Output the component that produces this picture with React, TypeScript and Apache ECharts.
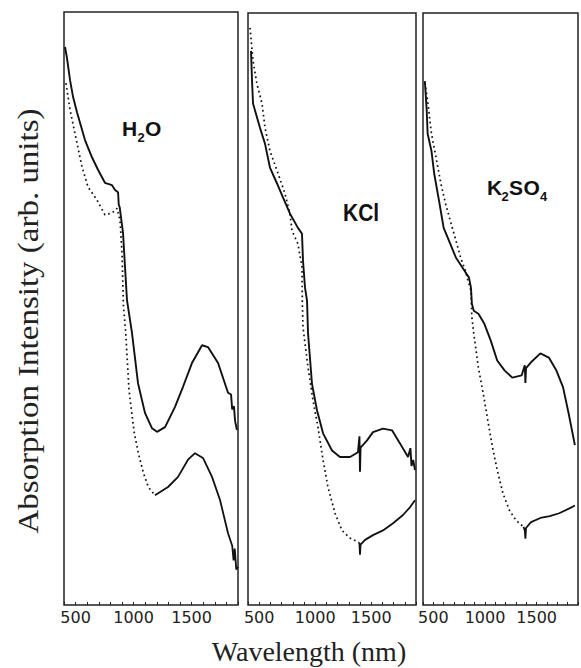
import React, { useEffect, useRef } from "react";
import * as echarts from "echarts";

// ---- data (wavelength nm, absorption arb. units) ----
const panelNames = ["H2O", "KCl", "K2SO4"];
const tickLabels = [500, 1000, 1500];
const xMin = 400;
const xMax = 1900;

const h2oSolid = [
  [409, 94.1], [426, 92.2], [452, 88.5], [478, 85.7], [512, 83.1], [581, 78.4], [641, 75.5],
  [693, 73.4], [753, 71.2], [814, 70.8], [840, 70.0], [866, 69.6], [872, 67.5], [880, 67.1],
  [909, 62.7], [926, 57.0], [943, 51.4], [986, 45.9], [1038, 37.4], [1098, 32.4], [1159, 29.8],
  [1202, 29.2], [1271, 30.0], [1357, 33.4], [1426, 36.8], [1503, 40.8], [1590, 43.8],
  [1641, 43.5], [1728, 40.8], [1814, 35.8], [1840, 35.5], [1850, 33.0], [1865, 33.5],
  [1875, 31.0], [1891, 29.5],
];
const h2oDottedSteep = [
  [417, 88.0], [452, 83.5], [512, 77.9], [555, 73.9], [607, 70.5], [684, 68.3], [753, 65.8],
  [814, 66.1], [857, 66.9], [883, 64.9], [900, 59.4], [912, 50.6], [932, 45.9], [949, 40.1],
  [960, 36.3], [984, 32.4], [1006, 29.0], [1041, 25.6], [1084, 22.3], [1127, 19.9], [1184, 18.5],
];
const h2oDottedFlat = [
  [1184, 18.5], [1297, 19.9], [1383, 21.6], [1469, 24.5], [1529, 25.6], [1598, 24.8],
  [1676, 21.6], [1745, 17.7], [1814, 12.1], [1850, 10.0], [1862, 7.5], [1872, 9.5],
  [1885, 6.0], [1900, 6.4],
];

const kclSolid = [
  [427, 93.6], [436, 88.5], [445, 84.7], [507, 80.6], [552, 77.9], [596, 73.9], [659, 71.2],
  [713, 68.8], [775, 66.1], [846, 63.7], [882, 62.7], [891, 58.2], [909, 53.6], [927, 51.4],
  [936, 45.9], [971, 37.4], [1016, 32.9], [1070, 29.0], [1150, 26.1], [1221, 25.0],
  [1311, 25.0], [1382, 25.8], [1395, 28.5], [1400, 22.5], [1405, 26.6], [1463, 27.8],
  [1516, 29.2], [1605, 29.8], [1686, 29.5], [1757, 27.3], [1829, 25.0], [1850, 26.5],
  [1860, 23.5], [1875, 24.5], [1891, 22.8],
];
const kclDottedSteep = [
  [418, 97.5], [445, 91.9], [480, 88.0], [525, 84.7], [552, 80.6], [596, 76.7], [659, 73.4],
  [730, 69.5], [775, 66.1], [793, 63.2], [846, 61.0], [882, 57.0], [885, 51.4], [891, 46.9],
  [936, 40.1], [980, 34.6], [1025, 30.0], [1070, 24.5], [1114, 19.9], [1177, 15.5],
  [1239, 12.6], [1311, 11.3], [1395, 10.5],
];
const kclDottedFlat = [
  [1395, 10.5], [1400, 8.5], [1405, 10.2], [1445, 11.0], [1516, 11.8], [1605, 12.6],
  [1695, 13.8], [1784, 15.2], [1846, 16.5], [1891, 17.7],
];

const k2so4Solid = [
  [418, 88.5], [436, 83.5], [445, 79.6], [482, 76.7], [509, 72.8], [555, 68.3], [600, 63.7],
  [664, 61.0], [718, 58.7], [800, 56.5], [845, 55.3], [864, 53.6], [873, 50.9], [891, 49.7],
  [936, 49.2], [991, 47.6], [1055, 44.7], [1118, 41.3], [1191, 39.6], [1264, 38.4],
  [1355, 38.8], [1385, 40.5], [1391, 37.5], [1397, 40.0], [1445, 41.0], [1536, 42.5],
  [1618, 41.8], [1691, 39.6], [1755, 36.8], [1809, 32.4], [1836, 30.0], [1870, 27.0],
];
const k2so4DottedSteep = [
  [418, 88.2], [445, 85.2], [482, 79.6], [527, 75.5], [573, 71.2], [618, 67.8], [664, 64.9],
  [718, 61.6], [764, 58.7], [809, 56.5], [827, 55.3], [864, 53.1], [873, 48.6], [891, 45.9],
  [936, 40.1], [982, 35.8], [1027, 31.2], [1073, 26.6], [1118, 22.8], [1173, 18.9],
  [1236, 16.0], [1300, 14.3], [1373, 13.2],
];
const k2so4DottedFlat = [
  [1373, 13.2], [1385, 12.6], [1391, 11.2], [1397, 13.0], [1445, 14.0], [1536, 14.7],
  [1627, 15.0], [1718, 15.5], [1827, 16.4], [1870, 16.8],
];

const panels = [
  { solid: h2oSolid, steep: h2oDottedSteep, flat: h2oDottedFlat },
  { solid: kclSolid, steep: kclDottedSteep, flat: kclDottedFlat },
  { solid: k2so4Solid, steep: k2so4DottedSteep, flat: k2so4DottedFlat },
];

// ---- layout ----
const gridBoxes = [
  { left: 64, top: 12, width: 174, height: 593 },
  { left: 248, top: 13, width: 168, height: 592 },
  { left: 423, top: 13, width: 165, height: 592 },
];

const INK = "#111";
const labelFont = "Liberation Sans";

function buildOption() {
  const grid = gridBoxes.map((g) => ({
    ...g,
    show: true,
    borderColor: "#222",
    borderWidth: 1.5,
    backgroundColor: "transparent",
  }));
  const xAxis = gridBoxes.map((_, i) => ({
    type: "value",
    gridIndex: i,
    min: xMin,
    max: xMax,
    interval: 100,
    axisLine: { show: false },
    axisTick: { show: true, inside: true, length: 3, lineStyle: { color: "#222", width: 1 } },
    splitLine: { show: false },
    axisLabel: {
      margin: 4,
      fontFamily: "DejaVu Sans",
      fontSize: 16,
      color: "#222",
      formatter: (v: number) => (tickLabels.includes(v) ? String(v) : ""),
    },
  }));
  const yAxis = gridBoxes.map((_, i) => ({
    type: "value",
    gridIndex: i,
    min: 0,
    max: 100,
    show: false,
  }));
  const series: any[] = [];
  panels.forEach((p, i) => {
    series.push({
      type: "line", name: panelNames[i] + " solid", xAxisIndex: i, yAxisIndex: i,
      data: p.solid, showSymbol: false, symbol: "none",
      lineStyle: { color: INK, width: 1.9 },
    });
    series.push({
      type: "line", name: panelNames[i] + " dotted", xAxisIndex: i, yAxisIndex: i,
      data: p.steep, showSymbol: false, symbol: "none",
      lineStyle: { color: INK, width: 1.7, type: [1.7, 3.2] },
    });
    series.push({
      type: "line", name: panelNames[i] + " dotted tail", xAxisIndex: i, yAxisIndex: i,
      data: p.flat, showSymbol: false, symbol: "none",
      lineStyle: { color: INK, width: 1.8 },
    });
  });

  const bold = (text: string, x: number, y: number, size: number) => ({
    type: "text",
    x,
    y,
    style: {
      text,
      fontFamily: labelFont,
      fontWeight: "bold",
      fontSize: size,
      fill: INK,
      align: "left",
      verticalAlign: "middle",
    },
  });

  const graphic = [
    {
      type: "text",
      x: 28,
      y: 321,
      rotation: Math.PI / 2,
      scaleX: 1.1,
      style: {
        text: "Absorption Intensity (arb. units)",
        fontFamily: "Liberation Serif",
        fontSize: 30,
        fill: "#222",
        align: "center",
        verticalAlign: "middle",
      },
    },
    {
      type: "text",
      x: 309,
      y: 651,
      style: {
        text: "Wavelength (nm)",
        fontFamily: "Liberation Serif",
        fontSize: 28,
        fill: "#222",
        align: "center",
        verticalAlign: "middle",
      },
    },
    {
      type: "group",
      x: 122,
      y: 128,
      children: [bold("H", 0, 0, 21), bold("2", 15.5, 9, 13), bold("O", 23, 0, 21)],
    },
    {
      type: "group",
      x: 343,
      y: 212.5,
      scaleY: 1.15,
      children: [bold("KCl", 0, 0, 21)],
    },
    {
      type: "group",
      x: 487,
      y: 187,
      children: [
        bold("K", 0, 0, 21),
        bold("2", 14.5, 9, 13),
        bold("S", 22, 0, 21),
        bold("O", 36.5, 0, 21),
        bold("4", 53, 9, 13),
      ],
    },
  ];

  return {
    animation: false,
    backgroundColor: "#fff",
    grid,
    xAxis,
    yAxis,
    series,
    graphic,
  };
}

export default function App() {
  const ref = useRef<HTMLDivElement>(null);
  useEffect(() => {
    if (!ref.current) return;
    const chart = echarts.init(ref.current, null, { renderer: "svg" });
    chart.setOption(buildOption() as any);
    return () => chart.dispose();
  }, []);
  return (
    <div
      ref={ref}
      style={{ position: "fixed", left: 0, top: 0, width: 581, height: 668, background: "#fff" }}
    />
  );
}
